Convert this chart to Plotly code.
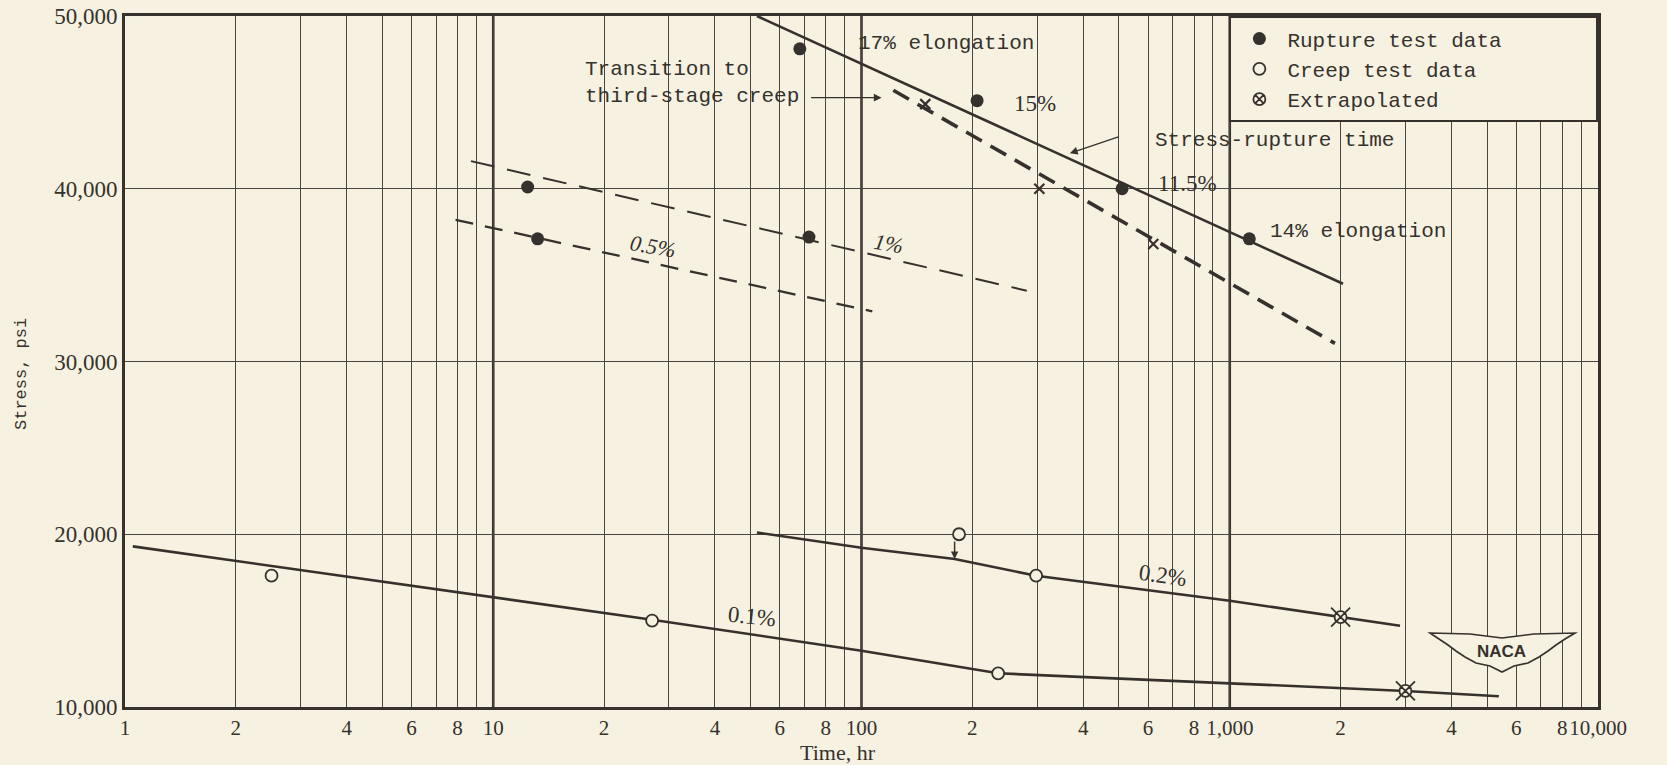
import numpy as np
import plotly.graph_objects as go

# ---------------- data ----------------
# Stress-rupture time line (solid)
rupture_line_t = [52, 2030]
rupture_line_s = [50000, 34500]
# Transition to third-stage creep (heavy dashed)
transition_line_t = [122, 1930]
transition_line_s = [45700, 31050]
# 1 % creep line (dashed)
creep1_line_t = [8.7, 281]
creep1_line_s = [41600, 34100]
# 0.5 % creep line (dashed)
creep05_line_t = [7.9, 107]
creep05_line_s = [38200, 32900]
# 0.2 % creep line (solid)
creep02_line_t = [52, 100, 179, 298, 1000, 2000, 2900]
creep02_line_s = [20100, 19220, 18570, 17600, 16150, 15200, 14700]
# 0.1 % creep line (solid)
creep01_line_t = [1.05, 10, 27, 100, 235, 1000, 3000, 5380]
creep01_line_s = [19300, 16350, 15050, 13260, 11950, 11370, 10930, 10620]

# Rupture test data (filled circles)
rupture_pts_t = [68, 206, 510, 1130, 12.4, 13.2, 72]
rupture_pts_s = [48100, 45100, 40000, 37100, 40100, 37100, 37200]
# Creep test data (open circles)
creep_pts_t = [2.5, 27, 235, 184, 298]
creep_pts_s = [17600, 15000, 11950, 20000, 17600]
# Extrapolated
extrap_pts_t = [2000, 3000]
extrap_pts_s = [15200, 10930]
# Transition points (x marks)
trans_pts_t = [149, 304, 620]
trans_pts_s = [44900, 40000, 36800]

# Axis ticks
x_tickvals = [m * 10 ** k for k in range(4) for m in range(1, 10)] + [10000]
x_ticktext = []
for k in range(4):
    first = ["1", "10", "100", "1,000"][k]
    x_ticktext += [first, "2", "", "4", "", "6", "", "8", ""]
x_ticktext += ["10,000"]
decades = [10, 100, 1000]
y_tickvals = [10000, 20000, 30000, 40000, 50000]
y_ticktext = ["10,000", "20,000", "30,000", "40,000", "50,000"]

legend_names = ["Rupture test data", "Creep test data", "Extrapolated"]

# ---------------- styling ----------------
BG = "#f7f1e1"
INK = "#35312d"
GRID = "#4a4540"
MONO = "Liberation Mono, DejaVu Sans Mono, monospace"
SERIF = "Liberation Serif, DejaVu Serif, serif"
PAD = "\u00a0" * 7  # widen legend box like the reference

fig = go.Figure()


def line(t, s, width=2.5, dash="solid"):
    fig.add_trace(go.Scatter(x=t, y=s, mode="lines", showlegend=False,
                             line=dict(color=INK, width=width, dash=dash),
                             hoverinfo="skip"))


line(rupture_line_t, rupture_line_s, 2.6)
line(transition_line_t, transition_line_s, 3.6, "18px,10px")
line(creep1_line_t, creep1_line_s, 2.0, "24px,13px")
line(creep05_line_t, creep05_line_s, 2.3, "18px,12px")
line(creep02_line_t, creep02_line_s, 2.6)
line(creep01_line_t, creep01_line_s, 2.6)

# third stage transition marks
fig.add_trace(go.Scatter(x=trans_pts_t, y=trans_pts_s, mode="markers", showlegend=False,
                         marker=dict(symbol="x-thin-open", size=10, color=INK,
                                     line=dict(color=INK, width=2.2)),
                         hoverinfo="skip"))

fig.add_trace(go.Scatter(x=rupture_pts_t, y=rupture_pts_s, mode="markers",
                         name=legend_names[0] + PAD,
                         marker=dict(symbol="circle", size=13, color=INK,
                                     line=dict(color=INK, width=0))))
fig.add_trace(go.Scatter(x=creep_pts_t, y=creep_pts_s, mode="markers",
                         name=legend_names[1] + PAD,
                         marker=dict(symbol="circle", size=12, color=BG,
                                     line=dict(color=INK, width=1.8))))
# outer spikes of extrapolated symbol
fig.add_trace(go.Scatter(x=extrap_pts_t, y=extrap_pts_s, mode="markers", showlegend=False,
                         marker=dict(symbol="x-thin-open", size=19, color=INK,
                                     line=dict(color=INK, width=1.8)),
                         hoverinfo="skip"))
fig.add_trace(go.Scatter(x=extrap_pts_t, y=extrap_pts_s, mode="markers",
                         name=legend_names[2] + PAD,
                         marker=dict(symbol="circle-x", size=12, color=BG,
                                     line=dict(color=INK, width=1.8))))

# decade grid lines (heavier)
shapes = []
for d in decades:
    shapes.append(dict(type="line", xref="x", yref="paper", x0=d, x1=d, y0=0, y1=1,
                       line=dict(color=INK, width=2.6), layer="below"))


# NACA logo (decorative), drawn in paper coordinates from pixel positions
def P(px, py):
    return (px - 125) / 1473, (707 - py) / 691


wing = [(1430, 633), (1470, 634), (1502, 638), (1534, 634), (1575, 633),
        (1565, 639), (1556, 645), (1548, 651), (1539, 657), (1528, 663),
        (1514, 666), (1502, 672), (1490, 666), (1476, 663), (1465, 657),
        (1456, 651), (1448, 645), (1439, 639)]
pts = [P(*q) for q in wing]
path = "M " + " L ".join(f"{a:.5f},{b:.5f}" for a, b in pts) + " Z"
shapes.append(dict(type="path", xref="paper", yref="paper", path=path,
                   fillcolor=BG, line=dict(color=INK, width=1.6), layer="above"))

annotations = []


def text(t, s, txt, size=21, font=MONO, xanchor="left", angle=0, italic=False):
    annotations.append(dict(x=np.log10(t), y=s, xref="x", yref="y", text=txt,
                            showarrow=False, xanchor=xanchor, yanchor="middle",
                            align="left", textangle=angle,
                            font=dict(family=font, size=size, color=INK,
                                      style="italic" if italic else "normal")))


text(96.7, 48418, "17% elongation", 21)
text(17.5, 46150, "Transition to<br>third-stage creep", 21)
text(255.6, 44946, "15%", 23, SERIF)
text(620, 42822, "Stress-rupture time", 21)
text(632, 40316, "11.5%", 23, SERIF)
text(1271, 37515, "14% elongation", 21)
text(27.2, 36646, "0.5%", 22, SERIF, "center", 10, True)
text(118.1, 36842, "1%", 22, SERIF, "center", 10, True)
text(659, 17641, "0.2%", 23, SERIF, "center", 8)
text(50.3, 15227, "0.1%", 23, SERIF, "center", 6)

# arrows
annotations.append(dict(x=np.log10(113.4), y=45272, xref="x", yref="y", ax=-72, ay=0,
                        showarrow=True, arrowhead=2, arrowsize=1.2, arrowwidth=1.3,
                        arrowcolor=INK, text=""))
annotations.append(dict(x=np.log10(368), y=42052, xref="x", yref="y", ax=50, ay=-17,
                        showarrow=True, arrowhead=2, arrowsize=1.2, arrowwidth=1.3,
                        arrowcolor=INK, text=""))
annotations.append(dict(x=np.log10(179), y=18570, xref="x", yref="y", ax=0, ay=-19,
                        showarrow=True, arrowhead=2, arrowsize=1, arrowwidth=1.5,
                        arrowcolor=INK, text=""))

# NACA text
nx, ny = P(1501, 651)
annotations.append(dict(x=nx, y=ny, xref="paper", yref="paper", text="<b>NACA</b>",
                        showarrow=False, xanchor="center", yanchor="middle",
                        font=dict(family="Liberation Sans, Arial, sans-serif",
                                  size=17, color=INK)))

# axis titles
annotations.append(dict(x=(838 - 125) / 1473, y=(707 - 752) / 691, xref="paper", yref="paper",
                        text="Time, hr", showarrow=False, xanchor="center",
                        yanchor="middle", font=dict(family=SERIF, size=22, color=INK)))
annotations.append(dict(x=(21 - 125) / 1473, y=(707 - 374) / 691, xref="paper", yref="paper",
                        text="Stress, psi", showarrow=False, textangle=-90,
                        xanchor="center", yanchor="middle",
                        font=dict(family=MONO, size=17, color=INK)))

fig.update_layout(
    width=1667, height=765,
    margin=dict(l=125, r=69, t=16, b=58, autoexpand=False),
    paper_bgcolor=BG, plot_bgcolor=BG,
    showlegend=True,
    legend=dict(x=1, y=1, xanchor="right", yanchor="top",
                bgcolor=BG, bordercolor=INK, borderwidth=2.4,
                font=dict(family=MONO, size=21, color=INK),
                itemwidth=46, tracegroupgap=0, itemsizing="trace"),
    shapes=shapes,
    annotations=annotations,
    hovermode=False,
)

fig.update_xaxes(type="log", range=[0, 4], tickmode="array",
                 tickvals=x_tickvals, ticktext=x_ticktext, tickangle=0,
                 showgrid=True, gridcolor=GRID, gridwidth=1.3,
                 showline=True, linecolor=INK, linewidth=2.8, mirror=True,
                 ticks="", zeroline=False, automargin=False,
                 tickfont=dict(family=SERIF, size=21, color=INK))
fig.update_yaxes(range=[10000, 50000], tickmode="array",
                 tickvals=y_tickvals, ticktext=y_ticktext,
                 showgrid=True, gridcolor=GRID, gridwidth=1.4,
                 showline=True, linecolor=INK, linewidth=2.8, mirror=True,
                 ticks="", zeroline=False, automargin=False,
                 tickfont=dict(family=SERIF, size=23, color=INK))

fig.write_html("out.html", config={"displayModeBar": False},
               post_script="document.body.style.margin='0';")
